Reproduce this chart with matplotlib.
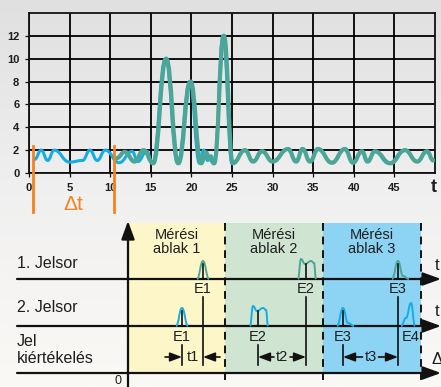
import numpy as np
import matplotlib
matplotlib.use("Agg")
import matplotlib.pyplot as plt
from matplotlib.path import Path
from matplotlib.patches import PathPatch, Rectangle

plt.rcParams['font.family'] = ['Liberation Sans', 'DejaVu Sans']

# --- upper chart: turning points ---
blue_t = [0.7, 1.5, 2.3, 3.1, 5.0, 6.6, 7.5, 8.4, 9.4, 11.1, 12.7, 13.4, 14.5, 15.2,
          16.8, 18.3, 19.8, 21.0, 21.5, 22.0, 22.4, 22.8, 23.9, 25.0,
          26.6, 27.6, 28.7, 30.0, 31.9, 32.9, 33.7, 34.6, 35.6, 37.3, 38.9, 39.9,
          41.0, 41.7, 42.6, 44.3, 46.3, 47.8, 49.0, 49.8]
blue_v = [1.2, 2.0, 1.1, 2.0, 0.95, 1.1, 2.0, 1.1, 2.0, 0.9, 1.9, 1.0, 1.9, 0.85,
          10.0, 0.85, 8.0, 0.85, 2.0, 1.1, 1.5, 0.85, 12.0, 0.85,
          2.0, 1.0, 1.9, 1.0, 2.1, 1.0, 2.1, 1.0, 2.1, 0.9, 2.1, 0.9,
          1.9, 1.0, 1.9, 0.85, 2.0, 1.0, 1.9, 1.1]
green_t = [10.8, 11.8, 13.0, 14.1, 15.3, 16.9, 18.4, 19.9, 21.2, 21.8, 22.2, 22.8,
           24.0, 25.1, 26.6, 27.6, 28.7, 30.0, 31.9, 32.9, 33.7, 34.6, 35.6, 37.3,
           38.9, 39.9, 41.0, 41.7, 42.6, 44.5, 46.3, 47.8, 49.0, 49.8]
green_v = [1.3, 1.85, 1.0, 2.0, 0.85, 10.0, 0.85, 8.0, 0.85, 1.8, 1.3, 0.85,
           12.0, 0.85, 2.0, 1.0, 1.9, 1.0, 2.1, 1.0, 2.1, 1.0, 2.1, 0.9,
           2.1, 0.9, 1.9, 1.0, 1.9, 0.85, 2.0, 1.0, 1.9, 1.1]
x_ticks = [0, 5, 10, 15, 20, 25, 30, 35, 40, 45]
y_ticks = [0, 2, 4, 6, 8, 10, 12]
dt_marks = [0.5, 10.5]

# --- lower diagram (pixel positions) ---
row_names = ['1. Jelsor', '2. Jelsor', 'Jel\nkiértékelés']
row_y = [279, 326, 373]
row_ends = ['t', 't', 'Δ']
win_edges = [128, 225, 323, 421]
win_colors = ['#fdf6c8', '#cfe5d1', '#8dd4f4']
win_labels = ['Mérési\nablak 1', 'Mérési\nablak 2', 'Mérési\nablak 3']
ev1_x = [203, 306, 398]
ev1_kind = ['single', 'double', 'tail']
ev1_names = ['E1', 'E2', 'E3']
ev2_x = [182, 258, 343, 411]
ev2_kind = ['single', 'double', 'tail', 'shoulder']
ev2_names = ['E1', 'E2', 'E3', 'E4']
delay_names = ['t1', 't2', 't3']

BLUE = '#16ade6'
GREEN = '#4da596'
ORANGE = '#f5821f'
INK = '#1e1e1e'

# pulse outlines: offsets from the event centre (dx, dy up)
pulse_shapes = {
    'single': ([-6, 0, 6], [0, 18, 0]),
    'double': ([-8, -5, -1, 5, 8, 10], [0, 20, 15, 18, 16, 0]),
    'tail': ([-6, 0, 5, 11], [0, 18, 3, 0]),
    'shoulder': ([-10, -5, 0, 4], [0, 8, 23, 0]),
}


def smooth_path(xs, ys):
    verts = [(xs[0], ys[0])]
    codes = [Path.MOVETO]
    for i in range(1, len(xs)):
        d = xs[i] - xs[i - 1]
        verts += [(xs[i - 1] + 0.45 * d, ys[i - 1]), (xs[i] - 0.45 * d, ys[i]), (xs[i], ys[i])]
        codes += [Path.CURVE4] * 3
    return Path(verts, codes)


fig = plt.figure(figsize=(4.41, 3.87), dpi=100)

# background gradient
bg = fig.add_axes([0, 0, 1, 1], zorder=-10)
grad = np.linspace(0, 1, 256)[:, None]
bg.imshow(grad, cmap=matplotlib.colors.LinearSegmentedColormap.from_list(
    'bg', ['#e0e0e0', '#f0f0f0', '#fbf9f6']), aspect='auto', extent=[0, 1, 0, 1])
bg.axis('off')

# ---------------- lower diagram ----------------
dg = fig.add_axes([0, 0, 1, 1], facecolor='none')
dg.set_xlim(0, 441)
dg.set_ylim(387, 0)
dg.axis('off')

top_y = 223
for i in range(3):
    dg.add_patch(Rectangle((win_edges[i], top_y), win_edges[i + 1] - win_edges[i],
                           row_y[2] - top_y, facecolor=win_colors[i], edgecolor='none', zorder=1))
    dg.text((win_edges[i] + win_edges[i + 1]) / 2, 242, win_labels[i], ha='center', va='center',
            fontsize=10.5, color=INK, linespacing=1.05, zorder=5)
for xe in win_edges[1:]:
    dg.plot([xe, xe], [top_y, 380], color='#111111', lw=1.4, ls=(0, (4, 3)), zorder=3)

arrow_big = dict(arrowstyle='-|>,head_length=0.55,head_width=0.2', lw=1.6, color='#111111',
                 mutation_scale=20, shrinkA=0, shrinkB=0)
for y, name, end in zip(row_y, row_names, row_ends):
    dg.annotate('', xy=(441, y), xytext=(17, y), arrowprops=arrow_big, zorder=4)
    dg.text(437, y - 14, end, ha='center', va='center', fontsize=12, color=INK, zorder=5)
dg.annotate('', xy=(128, 221), xytext=(128, 387), arrowprops=arrow_big, zorder=4)
dg.text(118, 381, '0', ha='center', va='center', fontsize=9, color=INK)

label_y = [263, 308, 350]
for y, name in zip(label_y, row_names):
    dg.text(17, y, name, ha='left', va='center', fontsize=11.5, color=INK,
            linespacing=1.1, zorder=5)

# events
for x, kind, name in zip(ev1_x, ev1_kind, ev1_names):
    dx, dy = pulse_shapes[kind]
    p = smooth_path([x + d for d in dx], [row_y[0] - d for d in dy])
    dg.add_patch(PathPatch(p, fill=False, edgecolor=GREEN, lw=1.4, zorder=4))
    dg.plot([x, x], [row_y[0], row_y[0] - 15], color='#111111', lw=1.2, zorder=5)
    dg.text(x, 289, name, ha='center', va='center', fontsize=10.5, color=INK, zorder=5)
    dg.plot([x, x], [297, 365], color='#111111', lw=1.2, zorder=5)
for i, (x, kind, name) in enumerate(zip(ev2_x, ev2_kind, ev2_names)):
    dx, dy = pulse_shapes[kind]
    p = smooth_path([x + d for d in dx], [row_y[1] - d for d in dy])
    dg.add_patch(PathPatch(p, fill=False, edgecolor=BLUE, lw=1.4, zorder=4))
    dg.text(x, 337, name, ha='center', va='center', fontsize=10.5, color=INK, zorder=5)
    if kind != 'shoulder':
        dg.plot([x, x], [row_y[1], row_y[1] - 15], color='#111111', lw=1.2, zorder=5)
        dg.plot([x, x], [345, 365], color='#111111', lw=1.2, zorder=5)

arrow_small = dict(arrowstyle='-|>,head_length=0.45,head_width=0.17', lw=1.2, color='#111111',
                   mutation_scale=16, shrinkA=0, shrinkB=0)
ty = 357
for i, name in enumerate(delay_names):
    a, b = ev2_x[i], ev1_x[i]
    mid = (a + b) / 2
    dg.text(mid, ty, name, ha='center', va='center', fontsize=10.5, color=INK, zorder=5)
    if b - a < 30:
        dg.annotate('', xy=(a, ty), xytext=(a - 17, ty), arrowprops=arrow_small, zorder=5)
        dg.annotate('', xy=(b, ty), xytext=(b + 17, ty), arrowprops=arrow_small, zorder=5)
    else:
        dg.annotate('', xy=(a, ty), xytext=(mid - 8, ty), arrowprops=arrow_small, zorder=5)
        dg.annotate('', xy=(b, ty), xytext=(mid + 8, ty), arrowprops=arrow_small, zorder=5)

# ---------------- upper chart ----------------
ax = fig.add_axes([29 / 441, 1 - 173 / 387, 406 / 441, 160 / 387], facecolor='none')
ax.set_xlim(0, 50)
ax.set_ylim(0, 14)
ax.set_xticks(x_ticks)
ax.set_yticks(y_ticks)
ax.set_xticklabels([str(v) for v in x_ticks], fontweight='bold', fontsize=8, color=INK)
ax.set_yticklabels([str(v) for v in y_ticks], fontweight='bold', fontsize=8, color=INK)
ax.tick_params(length=3, width=0.9, color='#111111', pad=4)
ax.grid(True, color='#000000', lw=1.3)
ax.set_axisbelow(True)
for s in ax.spines.values():
    s.set_color('#111111')
    s.set_linewidth(1.3)

ax.add_patch(PathPatch(smooth_path(blue_t, blue_v), fill=False, edgecolor=BLUE, lw=2.2,
                       capstyle='round', zorder=3))
ax.add_patch(PathPatch(smooth_path(green_t, green_v), fill=False, edgecolor=GREEN, lw=3.0,
                       capstyle='round', zorder=4))
ax.text(49.8, -1.25, 't', ha='center', va='center', fontsize=13, fontweight='bold',
        color=INK, clip_on=False)

for xm in dt_marks:
    ax.plot([xm, xm], [2.4, -3.4], color=ORANGE, lw=2, clip_on=False, zorder=5)
ax.text(sum(dt_marks) / 2, -2.75, 'Δt', ha='center', va='center', fontsize=15,
        color=ORANGE, clip_on=False)

fig.savefig('out.png', dpi=100)
